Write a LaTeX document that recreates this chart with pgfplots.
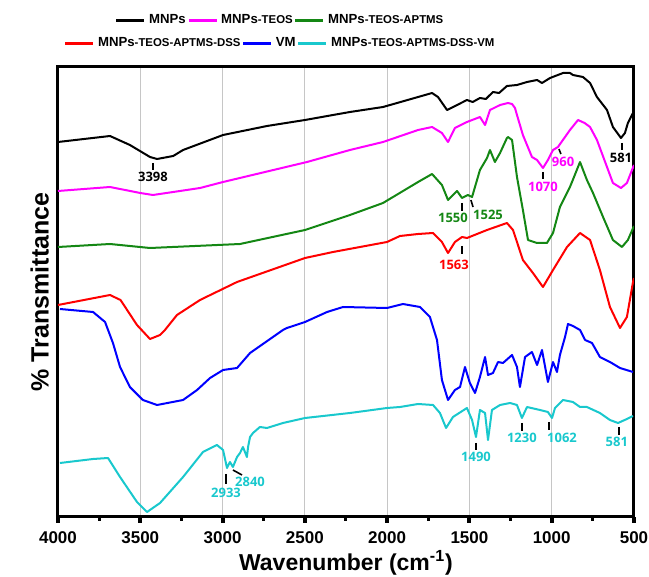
\documentclass[border=0pt]{standalone}
\usepackage{fontspec}
\setmainfont{Liberation Sans}
\newfontfamily\annfont{Open Sans}
\usepackage{pgfplots}
\pgfplotsset{compat=1.18}

\definecolor{ftgreen}{RGB}{20,135,20}
\definecolor{ftcyan}{RGB}{25,200,205}
\definecolor{ftmag}{RGB}{255,0,255}
\definecolor{ftred}{RGB}{255,0,0}
\definecolor{ftblue}{RGB}{0,0,255}
\newcommand{\sfx}[1]{{\fontsize{5.7}{6}\selectfont #1}}
\newcommand{\annfnt}{\annfont\bfseries\fontsize{6.5}{7}\selectfont}

\pgfplotsset{
  ftlegend/.style={
    legend columns=-1,
    legend style={draw=none, fill=none, font=\bfseries\fontsize{6.6}{7}\selectfont,
      nodes={inner sep=0.6pt},
      /tikz/every odd column/.append style={column sep=1pt}},
    legend image code/.code={\draw[##1, line width=1.5pt] (0pt,0pt) -- (14pt,0pt);},
  },
}

\begin{document}
\begin{tikzpicture}
\useasboundingbox (-29pt,-30pt) rectangle (295.5pt,258.5pt);
\begin{axis}[
    at={(0,0)}, anchor=south west,
    scale only axis,
    width=288pt, height=225pt,
    x dir=reverse,
    xmin=500, xmax=4000,
    y dir=reverse,
    ymin=67, ymax=517,
    xtick={500,1000,...,4000},
    minor x tick num=1,
    ytick=\empty,
    xtick pos=bottom,
    tick align=outside,
    major tick length=3pt,
    minor tick length=1.8pt,
    major tick style={line width=2pt, black},
    minor tick style={line width=1.5pt, black},
    axis line style={line width=1.5pt},
    xmajorgrids,
    grid style={gray!45, line width=0.5pt},
    tick label style={font=\bfseries\fontsize{8.5}{9}\selectfont},
    /pgf/number format/assume math mode=true,
    /pgf/number format/set thousands separator={},
    xticklabel style={yshift=-1pt},
    xlabel={Wavenumber (cm\textsuperscript{-1})},
    xlabel style={font=\bfseries\fontsize{11.5}{12}\selectfont,
      at={(axis description cs:0.5,0)}, anchor=center, yshift=-23pt},
    ylabel={\% Transmittance},
    ylabel style={font=\bfseries\fontsize{12.5}{13}\selectfont, yshift=-2pt},
    ftlegend,
    legend style={at={(0.385,1.104)}, anchor=center},
    every axis plot/.append style={line width=1pt, line join=round},
]
% MNPs
\addplot[black] coordinates {
(4000,142) (3684,136) (3563,145) (3441,157) (3398,159) (3300,156) (3240,150)
(2997,135) (2730,126) (2499,120) (2329,115) (2226,112) (2025,107) (1812,97)
(1727,93) (1691,97) (1636,110) (1575,105) (1515,100) (1480,102) (1436,98)
(1400,99) (1357,92) (1320,93) (1272,86) (1211,85) (1150,82) (1089,80) (1059,83)
(1010,78) (931,73) (889,73) (871,75) (810,77) (767,83) (725,97) (664,110)
(628,127) (579,138) (555,133) (537,123) (506,113) (500,111)};
% MNPs-TEOS
\addplot[ftmag] coordinates {
(4000,191) (3684,187) (3500,193) (3423,195) (3300,192) (3137,188) (2997,182)
(2487,162) (2226,150) (2025,142) (1812,130) (1727,127) (1667,133) (1630,142)
(1588,128) (1515,122) (1436,117) (1405,125) (1375,110) (1314,105) (1266,103)
(1241,104) (1223,108) (1211,115) (1175,135) (1120,157) (1089,160) (1053,168)
(1023,160) (992,150) (962,147) (889,130) (840,120) (800,123) (767,127) (725,140)
(664,167) (628,183) (579,188) (543,183) (500,165)};
% MNPs-TEOS-APTMS
\addplot[ftgreen] coordinates {
(4000,247) (3684,244) (3441,248) (2894,244) (2499,230) (2226,215) (2025,203)
(1812,182) (1727,174) (1667,185) (1630,200) (1575,191) (1545,198) (1509,195)
(1484,197) (1436,170) (1393,158) (1375,150) (1345,162) (1314,153) (1272,138)
(1266,137) (1241,140) (1211,177) (1175,210) (1144,240) (1089,243) (1029,243)
(992,233) (950,207) (889,187) (828,162) (786,180) (749,193) (688,217) (628,240)
(573,247) (537,240) (500,226)};
% MNPs-TEOS-APTMS-DSS
\addplot[ftred] coordinates {
(4000,305) (3684,295) (3620,300) (3520,325) (3441,339) (3380,335) (3350,330)
(3277,315) (3137,300) (2912,282) (2499,258) (2329,252) (2001,242) (1922,236)
(1812,234) (1721,233) (1667,242) (1630,253) (1588,242) (1545,237) (1515,238)
(1393,230) (1272,223) (1235,230) (1175,260) (1114,273) (1053,287) (992,270)
(907,247) (828,233) (767,240) (707,270) (646,307) (585,328) (543,317) (506,282)
(500,278)};
% VM
\addplot[ftblue] coordinates {
(3988,309) (3787,312) (3714,322) (3666,343) (3623,367) (3563,387) (3484,400)
(3398,405) (3240,400) (3155,390) (3076,378) (2997,370) (2912,368) (2833,353)
(2633,330) (2609,328) (2499,322) (2365,312) (2268,307) (2001,308) (1904,304)
(1800,307) (1740,317) (1697,340) (1667,380) (1630,400) (1588,390) (1557,387)
(1527,367) (1497,383) (1466,393) (1436,377) (1405,357) (1387,375) (1357,373)
(1326,362) (1296,363) (1241,355) (1211,367) (1193,387) (1162,357) (1120,352)
(1089,365) (1059,350) (1023,382) (992,362) (968,372) (950,355) (919,337)
(901,324) (871,326) (828,330) (797,340) (755,343) (707,357) (646,362)
(585,368) (506,372)};
% MNPs-TEOS-APTMS-DSS-VM
\addplot[ftcyan] coordinates {
(3988,463) (3787,459) (3696,458) (3623,477) (3520,502) (3459,512) (3380,503)
(3240,477) (3119,452) (3034,445) (2997,450) (2973,468) (2955,462) (2937,467)
(2912,457) (2894,453) (2876,447) (2864,452) (2852,457) (2845,447) (2833,437)
(2815,433) (2773,427) (2730,428) (2633,423) (2499,418) (2226,413) (2001,408)
(1922,407) (1812,404) (1721,405) (1679,413) (1642,428) (1600,417) (1515,408)
(1484,420) (1460,437) (1436,410) (1405,413) (1387,440) (1363,410) (1314,405)
(1253,403) (1211,405) (1181,418) (1150,407) (1071,410) (1023,412) (998,418)
(980,408) (931,400) (871,402) (828,407) (786,407) (707,413) (646,420)
(597,423) (543,419) (506,416)};
\legend{MNPs, MNPs\sfx{-TEOS}, MNPs\sfx{-TEOS-APTMS}}

% peak labels
\draw[black, line width=0.8pt] (axis cs:3423,163) -- (axis cs:3423,170);
\node[font=\annfnt, black] at (axis cs:3423,177) {3398};
\draw[black, line width=0.8pt] (axis cs:573,143) -- (axis cs:573,150);
\node[font=\annfnt, black] at (axis cs:579,158) {581};
\draw[black, line width=0.8pt] (axis cs:1053,172) -- (axis cs:1053,179);
\node[font=\annfnt, ftmag] at (axis cs:1053,187) {1070};
\draw[black, line width=0.8pt] (axis cs:956,149) -- (axis cs:944,154);
\node[font=\annfnt, ftmag] at (axis cs:931,162) {960};
\draw[black, line width=0.8pt] (axis cs:1545,203) -- (axis cs:1545,211);
\node[font=\annfnt, ftgreen] at (axis cs:1600,218) {1550};
\draw[black, line width=0.8pt] (axis cs:1491,200) -- (axis cs:1478,207);
\node[font=\annfnt, ftgreen] at (axis cs:1387,215) {1525};
\draw[black, line width=0.8pt] (axis cs:1545,246) -- (axis cs:1545,254);
\node[font=\annfnt, ftred] at (axis cs:1594,265) {1563};
\draw[black, line width=0.8pt] (axis cs:2979,474) -- (axis cs:2979,484);
\node[font=\annfnt, ftcyan] at (axis cs:2979,493) {2933};
\draw[black, line width=0.8pt] (axis cs:2937,470) -- (axis cs:2882,475);
\node[font=\annfnt, ftcyan] at (axis cs:2833,482) {2840};
\draw[black, line width=0.8pt] (axis cs:1460,443) -- (axis cs:1460,450);
\node[font=\annfnt, ftcyan] at (axis cs:1460,457) {1490};
\draw[black, line width=0.8pt] (axis cs:1181,423) -- (axis cs:1181,431);
\node[font=\annfnt, ftcyan] at (axis cs:1181,438) {1230};
\draw[black, line width=0.8pt] (axis cs:1016,422) -- (axis cs:1016,430);
\node[font=\annfnt, ftcyan] at (axis cs:937,438) {1062};
\draw[black, line width=0.8pt] (axis cs:591,427) -- (axis cs:591,435);
\node[font=\annfnt, ftcyan] at (axis cs:604,442) {581};
\end{axis}

% second legend row
\begin{axis}[
    at={(0,0)}, anchor=south west,
    scale only axis,
    width=288pt, height=225pt,
    hide axis,
    xmin=0, xmax=1, ymin=0, ymax=1,
    ftlegend,
    legend style={at={(0.385,1.053)}, anchor=center},
]
\addlegendimage{ftred}
\addlegendimage{ftblue}
\addlegendimage{ftcyan}
\legend{MNPs\sfx{-TEOS-APTMS-DSS}, VM, MNPs\sfx{-TEOS-APTMS-DSS-VM}}
\end{axis}
\end{tikzpicture}
\end{document}
